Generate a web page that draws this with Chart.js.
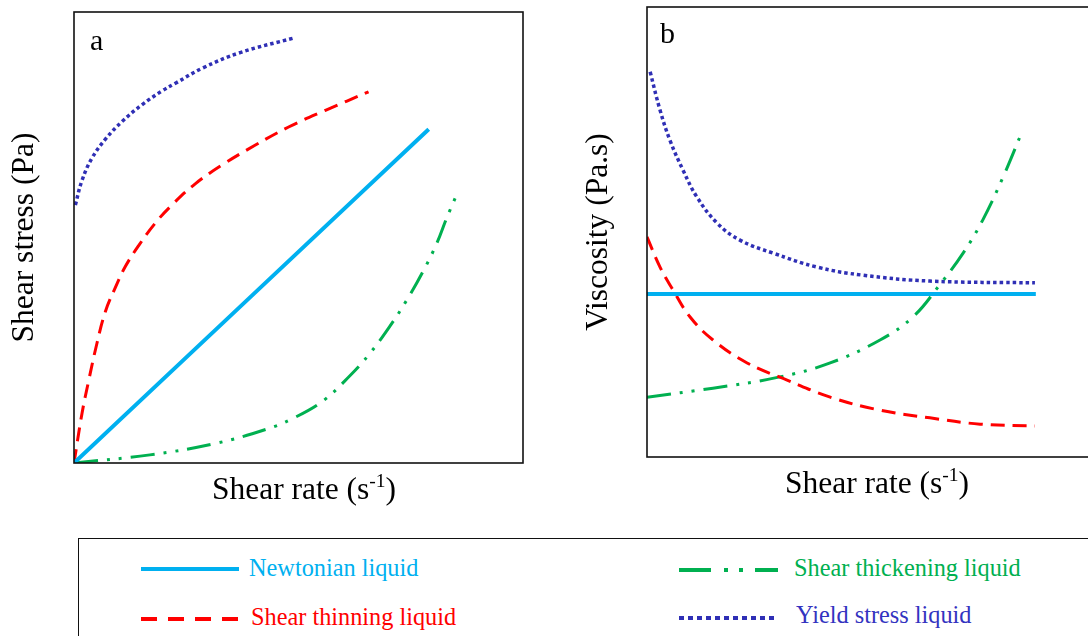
<!DOCTYPE html>
<html>
<head>
<meta charset="utf-8">
<script src="https://cdn.jsdelivr.net/npm/chart.js@4/dist/chart.umd.min.js"></script>
<style>
  html, body { margin:0; padding:0; background:#fff; width:1088px; height:636px; overflow:hidden; }
  #wrapA { position:absolute; left:0; top:0; width:560px; height:530px; }
  #wrapB { position:absolute; left:560px; top:0; width:540px; height:530px; }
  #legend { position:absolute; left:78px; top:538px; width:1030px; height:120px; border:1.5px solid #111; box-sizing:border-box; }
  .lt { position:absolute; font-family:"Liberation Serif","Times New Roman",serif; font-size:24.3px; line-height:28px; white-space:nowrap; }
  svg.ls { position:absolute; left:0; top:0; overflow:visible; }
</style>
</head>
<body>
<div id="wrapA"><canvas id="chartA"></canvas></div>
<div id="wrapB"><canvas id="chartB"></canvas></div>
<div id="legend">
  <svg class="ls" width="1030" height="120">
    <line id="sNewt" x1="62" y1="30" x2="160" y2="30" stroke="#00B0F0" stroke-width="4"/>
    <line id="sThin" x1="62" y1="80" x2="160" y2="80" stroke="#FF0000" stroke-width="4" stroke-dasharray="16 11"/>
    <line id="sThick" x1="600" y1="31" x2="699" y2="31" stroke="#00B050" stroke-width="4" stroke-dasharray="32 13 4 11 4 12 32"/>
    <line id="sYield" x1="600" y1="79" x2="697" y2="79" stroke="#2F2FB5" stroke-width="4" stroke-dasharray="5 4"/>
  </svg>
  <div class="lt" id="tNewt" style="left:170px; top:15px; color:#00B0F0;"></div>
  <div class="lt" id="tThin" style="left:172px; top:64px; color:#FF0000;"></div>
  <div class="lt" id="tThick" style="left:715px; top:15px; color:#00B050;"></div>
  <div class="lt" id="tYield" style="left:717px; top:62px; color:#3333C0;"></div>
</div>
<script>
// ---------- data ----------
const seriesNames = ["Newtonian liquid", "Shear thinning liquid", "Shear thickening liquid", "Yield stress liquid"];
const panelLabels = ["a", "b"];
const yTitles = ["Shear stress (Pa)", "Viscosity (Pa.s)"];
const xTitleMain = "Shear rate (s";
const xTitleSup = "-1";
const xTitleEnd = ")";

// Panel a: shear stress vs shear rate (arbitrary units 0-100)
const aNewtonianX = [0, 79];
const aNewtonianY = [0, 74];
const aThinningX = [0, 1.8, 3.3, 5.1, 7.0, 9.2, 11.4, 14.4, 18.1, 21.8, 27.0, 33.0, 40.4, 47.8, 56.0, 65.6];
const aThinningY = [0, 11.1, 18.4, 26.5, 33.6, 38.9, 43.5, 48.2, 53.2, 57.2, 61.9, 66.1, 70.5, 74.5, 78.2, 82.3];
const aThickeningX = [0, 16.9, 31.8, 42.9, 48.8, 55.5, 61.5, 65.9, 70.4, 74.1, 77.8, 80.8, 83.0, 85.1];
const aThickeningY = [0, 1.8, 4.4, 7.5, 9.9, 13.8, 19.4, 24.3, 30.4, 36.1, 42.6, 48.7, 54.3, 59.2];
const aYieldX = [0.3, 1.8, 4.0, 7.0, 10.7, 15.1, 19.6, 22.6, 28.7, 37.0, 48.8];
const aYieldY = [57.2, 62.7, 67.6, 71.8, 75.7, 79.4, 82.5, 84.2, 87.6, 91.0, 94.2];

// Panel b: viscosity vs shear rate (arbitrary units 0-100)
const bNewtonianX = [0, 86.6];
const bNewtonianY = [36.2, 36.2];
const bThinningX = [0, 2.9, 5.8, 9.6, 14.7, 22.3, 31.2, 40.8, 51.9, 63.0, 74.2, 86.4];
const bThinningY = [48.9, 42.2, 37.1, 31.1, 26.0, 20.9, 17.1, 13.3, 10.4, 8.7, 7.3, 6.9];
const bThickeningX = [0, 14.7, 29.6, 40.8, 51.9, 59.2, 65.3, 70.4, 74.8, 79.3, 83.7];
const bThickeningY = [13.3, 15.3, 17.8, 20.9, 26.0, 31.1, 38.4, 45.3, 52.7, 62.2, 72.7];
const bYieldX = [0.7, 2.9, 5.1, 8.0, 11.1, 15.6, 20.7, 28.1, 37.9, 48.1, 63.0, 86.4];
const bYieldY = [85.6, 77.1, 70.4, 63.8, 57.8, 52.0, 48.2, 45.3, 42.2, 40.4, 39.1, 38.7];

// ---------- styles ----------
const COL_NEWT = "#00B0F0", COL_THIN = "#FF0000", COL_THICK = "#00B050", COL_YIELD = "#2F2FB5";
const SERIF = '"Liberation Serif", "Times New Roman", serif';

document.getElementById("tNewt").textContent = seriesNames[0];
document.getElementById("tThin").textContent = seriesNames[1];
document.getElementById("tThick").textContent = seriesNames[2];
document.getElementById("tYield").textContent = seriesNames[3];

function pts(xs, ys) { return xs.map((x, i) => ({ x: x, y: ys[i] })); }

function makeDatasets(nx, ny, tx, ty, kx, ky, yx, yy) {
  const common = { showLine: true, pointRadius: 0, pointHoverRadius: 0, fill: false,
                   tension: 0.4, borderCapStyle: "butt" };
  return [
    Object.assign({ label: seriesNames[0], data: pts(nx, ny), borderColor: COL_NEWT, borderWidth: 4 }, common),
    Object.assign({ label: seriesNames[1], data: pts(tx, ty), borderColor: COL_THIN, borderWidth: 3, borderDash: [14, 8] }, common),
    Object.assign({ label: seriesNames[2], data: pts(kx, ky), borderColor: COL_THICK, borderWidth: 3, borderDash: [24, 9, 3, 9, 3, 9] }, common),
    Object.assign({ label: seriesNames[3], data: pts(yx, yy), borderColor: COL_YIELD, borderWidth: 3.5, borderDash: [3.5, 3] }, common)
  ];
}

const framePlugin = {
  id: "frameTitles",
  afterDraw(chart, args, opts) {
    const ctx = chart.ctx, a = chart.chartArea;
    ctx.save();
    ctx.strokeStyle = "#111";
    ctx.lineWidth = 1.6;
    ctx.strokeRect(a.left, a.top, a.right - a.left, a.bottom - a.top);
    ctx.fillStyle = "#000";
    ctx.font = "30px " + SERIF;
    ctx.textBaseline = "alphabetic";
    ctx.textAlign = "left";
    ctx.fillText(opts.label, a.left + opts.labelDx, a.top + opts.labelDy);
    const big = "31.5px " + SERIF, small = "19.5px " + SERIF;
    ctx.font = big; const w1 = ctx.measureText(xTitleMain).width; const w3 = ctx.measureText(xTitleEnd).width;
    ctx.font = small; const w2 = ctx.measureText(xTitleSup).width;
    let x = a.left + opts.xTitleCx - (w1 + w2 + w3) / 2;
    const yb = a.bottom + 36;
    ctx.font = big; ctx.fillText(xTitleMain, x, yb); x += w1;
    ctx.font = small; ctx.fillText(xTitleSup, x, yb - 12); x += w2;
    ctx.font = big; ctx.fillText(xTitleEnd, x, yb);
    ctx.translate(a.left - opts.yTitleDx, (a.top + a.bottom) / 2);
    ctx.rotate(-Math.PI / 2);
    ctx.textAlign = "center";
    ctx.font = big;
    ctx.fillText(opts.yTitle, 0, 0);
    ctx.restore();
  }
};

function axisOpts() {
  return {
    x: { type: "linear", min: 0, max: 100, display: true,
         grid: { display: false, drawTicks: false, tickLength: 0 },
         border: { display: false }, ticks: { display: false }, title: { display: false } },
    y: { type: "linear", min: 0, max: 100, display: true,
         grid: { display: false, drawTicks: false, tickLength: 0 },
         border: { display: false }, ticks: { display: false }, title: { display: false } }
  };
}

new Chart(document.getElementById("chartA"), {
  type: "scatter",
  data: { datasets: makeDatasets(aNewtonianX, aNewtonianY, aThinningX, aThinningY, aThickeningX, aThickeningY, aYieldX, aYieldY) },
  options: {
    responsive: true, maintainAspectRatio: false, animation: false,
    layout: { padding: { left: 74, top: 12, right: 37, bottom: 67 } },
    scales: axisOpts(),
    plugins: { legend: { display: false }, tooltip: { enabled: false },
      frameTitles: { label: panelLabels[0], labelDx: 16, labelDy: 38, xTitleCx: 230, yTitleDx: 41, yTitle: yTitles[0] } }
  },
  plugins: [framePlugin]
});

new Chart(document.getElementById("chartB"), {
  type: "scatter",
  data: { datasets: makeDatasets(bNewtonianX, bNewtonianY, bThinningX, bThinningY, bThickeningX, bThickeningY, bYieldX, bYieldY) },
  options: {
    responsive: true, maintainAspectRatio: false, animation: false,
    layout: { padding: { left: 87, top: 7, right: 4, bottom: 73 } },
    scales: axisOpts(),
    plugins: { legend: { display: false }, tooltip: { enabled: false },
      frameTitles: { label: panelLabels[1], labelDx: 13, labelDy: 36, xTitleCx: 230, yTitleDx: 40, yTitle: yTitles[1] } }
  },
  plugins: [framePlugin]
});
</script>
</body>
</html>
